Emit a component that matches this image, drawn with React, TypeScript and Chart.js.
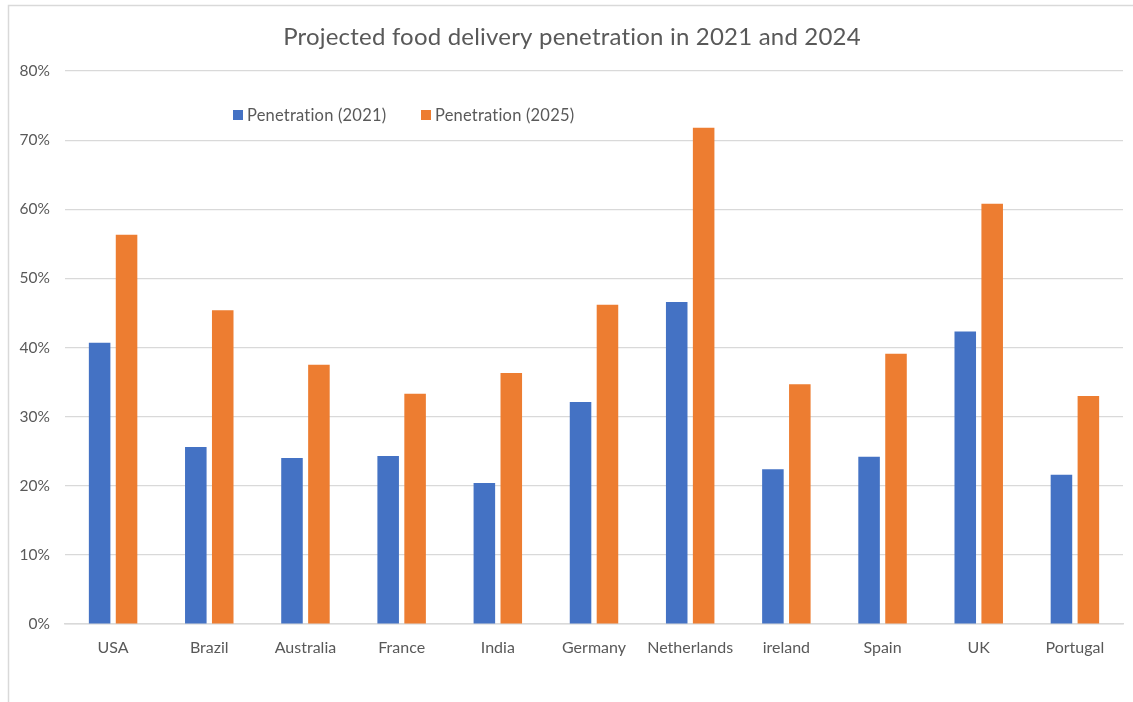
import React, { useEffect, useRef } from "react";
import { Chart, registerables } from "chart.js";

Chart.register(...registerables);

const categories = ["USA", "Brazil", "Australia", "France", "India", "Germany", "Netherlands", "ireland", "Spain", "UK", "Portugal"];
const penetration2021 = [40.7, 25.6, 24.0, 24.3, 20.4, 32.1, 46.6, 22.4, 24.2, 42.3, 21.6];
const penetration2025 = [56.3, 45.4, 37.5, 33.3, 36.3, 46.2, 71.8, 34.7, 39.1, 60.8, 33.0];
const seriesNames = ["Penetration (2021)", "Penetration (2025)"];
const titleText = "Projected food delivery penetration in 2021 and 2024";

const BLUE = "#4472C4";
const ORANGE = "#ED7D31";
const FONT = "Lato, 'Open Sans', sans-serif";

const decorPlugin = {
  id: "decor",
  beforeDraw(chart: any) {
    const ctx = chart.ctx;
    ctx.save();
    ctx.strokeStyle = "#d9d9d9";
    ctx.lineWidth = 1.5;
    ctx.beginPath();
    ctx.moveTo(8.5, 702);
    ctx.lineTo(8.5, 5.5);
    ctx.lineTo(1133, 5.5);
    ctx.stroke();
    ctx.restore();
  },
  afterDraw(chart: any) {
    const ctx = chart.ctx;
    const area = chart.chartArea;
    ctx.save();
    try { (ctx as any).letterSpacing = "0.2px"; } catch (e) {}
    ctx.fillStyle = "#595959";
    ctx.font = `24px ${FONT}`;
    ctx.textAlign = "center";
    ctx.textBaseline = "middle";
    ctx.fillText(titleText, 572, 37);
    ctx.font = `16.5px ${FONT}`;
    ctx.textAlign = "left";
    const colors = [BLUE, ORANGE];
    const xs = [area.left + 168, area.left + 356];
    const y = area.top + 44;
    seriesNames.forEach((name, i) => {
      ctx.fillStyle = colors[i];
      ctx.fillRect(xs[i], y - 5, 10, 10);
      ctx.fillStyle = "#595959";
      ctx.fillText(name, xs[i] + 14, y + 1);
    });
    ctx.restore();
  },
};

export default function App() {
  const ref = useRef<HTMLCanvasElement>(null);
  useEffect(() => {
    if (!ref.current) return;
    const chart = new Chart(ref.current, {
      type: "bar",
      data: {
        labels: categories,
        datasets: [
          { label: seriesNames[0], data: penetration2021, backgroundColor: BLUE, barPercentage: 0.8, categoryPercentage: 0.56 },
          { label: seriesNames[1], data: penetration2025, backgroundColor: ORANGE, barPercentage: 0.8, categoryPercentage: 0.56 },
        ],
      },
      options: {
        animation: false,
        responsive: false,
        maintainAspectRatio: false,
        layout: { padding: { left: 0, right: 10, top: 71, bottom: 0 } },
        plugins: {
          legend: { display: false },
          title: { display: false },
          tooltip: { enabled: false },
        },
        scales: {
          x: {
            grid: { display: false, drawTicks: false },
            border: { color: "#d9d9d9", width: 1.5 },
            ticks: { color: "#595959", font: { family: FONT, size: 16 }, padding: 14, maxRotation: 0 },
            afterFit: (s: any) => { s.height = 78; },
          },
          y: {
            min: 0,
            max: 80,
            ticks: {
              stepSize: 10,
              color: "#595959",
              font: { family: FONT, size: 15.5 },
              padding: 15,
              callback: (v: any) => `${v}%`,
            },
            grid: { color: "#d9d9d9", lineWidth: 1.2, drawTicks: false },
            border: { display: false },
            afterFit: (s: any) => { s.width = 65; },
          },
        },
      },
      plugins: [decorPlugin],
    });
    return () => chart.destroy();
  }, []);
  return (
    <div style={{ position: "absolute", left: 0, top: 0, width: 1133, height: 702, background: "#fff" }}>
      <canvas ref={ref} width={1133} height={702} style={{ display: "block", width: 1133, height: 702 }} />
    </div>
  );
}
